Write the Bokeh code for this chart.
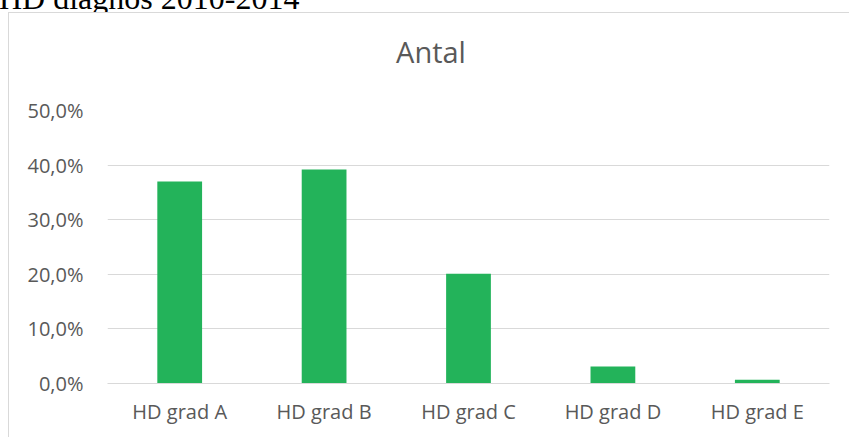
from bokeh.plotting import figure
from bokeh.models import FactorRange, Range1d, FixedTicker, Div, GlobalInlineStyleSheet
from bokeh.layouts import column, row
from bokeh.embed import file_html
from bokeh.resources import INLINE

header_text = "HD diagnos 2010-2014"
title_text = "Antal"
categories = ["HD grad A", "HD grad B", "HD grad C", "HD grad D", "HD grad E"]
shares = [0.370, 0.392, 0.201, 0.031, 0.007]
tick_values = [0.0, 0.1, 0.2, 0.3, 0.4, 0.5]
tick_labels = ["0,0%", "10,0%", "20,0%", "30,0%", "40,0%", "50,0%"]

W, H = 849, 437
TOP = 90          # height of the html strip above the figure
LEFT = 9          # width of the html strip left of the figure
FONT = "Open Sans"
TXT = "#595959"
GRID = "#d9d9d9"

top_html = f"""
<div style="position:relative;width:{W}px;height:{TOP}px;overflow:hidden;background:white;margin:0;padding:0">
  <div style="position:absolute;left:0;top:0;width:{W}px;height:12px;overflow:hidden">
    <div style="position:absolute;left:-1px;top:-18px;font-family:'Liberation Serif';font-size:32px;line-height:32px;color:black;white-space:nowrap">{header_text}</div>
  </div>
  <div style="position:absolute;left:8px;top:12px;width:{W - 8}px;height:1px;background:{GRID}"></div>
  <div style="position:absolute;left:8px;top:12px;width:1px;height:{TOP - 12}px;background:{GRID}"></div>
  <div style="position:absolute;left:0;top:32px;width:862px;text-align:center;font-family:'{FONT}';font-size:29px;line-height:40px;color:{TXT};white-space:nowrap">{title_text}</div>
</div>
"""
left_html = f"""
<div style="position:relative;width:{LEFT}px;height:{H - TOP}px;background:white;margin:0;padding:0">
  <div style="position:absolute;left:8px;top:0;width:1px;height:{H - TOP}px;background:{GRID}"></div>
</div>
"""

top_div = Div(text=top_html, width=W, height=TOP, margin=0)
left_div = Div(text=left_html, width=LEFT, height=H - TOP, margin=0)

PW, PH = W - LEFT, H - TOP
p = figure(width=PW, height=PH, output_backend="svg", toolbar_location=None,
           x_range=FactorRange(*categories, range_padding=0),
           y_range=Range1d(0, 0.5),
           min_border_left=107 - LEFT, min_border_right=20,
           min_border_top=110 - TOP, min_border_bottom=54, margin=0)
p.outline_line_color = None
p.background_fill_color = "white"
p.border_fill_color = "white"

p.vbar(x=categories, top=shares, width=0.31, color="#23b35a", line_color=None)

p.yaxis.ticker = FixedTicker(ticks=tick_values)
p.yaxis.major_label_overrides = {v: l for v, l in zip(tick_values, tick_labels)}
p.yaxis.axis_line_color = None
p.yaxis.major_tick_line_color = None
p.yaxis.minor_tick_line_color = None
p.yaxis.major_tick_out = 0
p.yaxis.major_label_standoff = 24
p.yaxis.major_label_text_font = FONT
p.yaxis.major_label_text_font_size = "20px"
p.yaxis.major_label_text_color = TXT

p.xaxis.axis_line_color = GRID
p.xaxis.axis_line_width = 1.2
p.xaxis.major_tick_line_color = None
p.xaxis.major_tick_out = 0
p.xaxis.major_label_standoff = 14
p.xaxis.major_label_text_font = FONT
p.xaxis.major_label_text_font_size = "20px"
p.xaxis.major_label_text_color = TXT

p.xgrid.grid_line_color = None
p.ygrid.grid_line_color = GRID
p.ygrid.grid_line_width = 1.2
p.ygrid.ticker = FixedTicker(ticks=tick_values)

layout = column(top_div, row(left_div, p, spacing=0, margin=0), spacing=0, margin=0)
layout.stylesheets = [GlobalInlineStyleSheet(css="body { margin: 0 !important; padding: 0 !important; }")]

open("out.html", "w").write(file_html(layout, INLINE))
